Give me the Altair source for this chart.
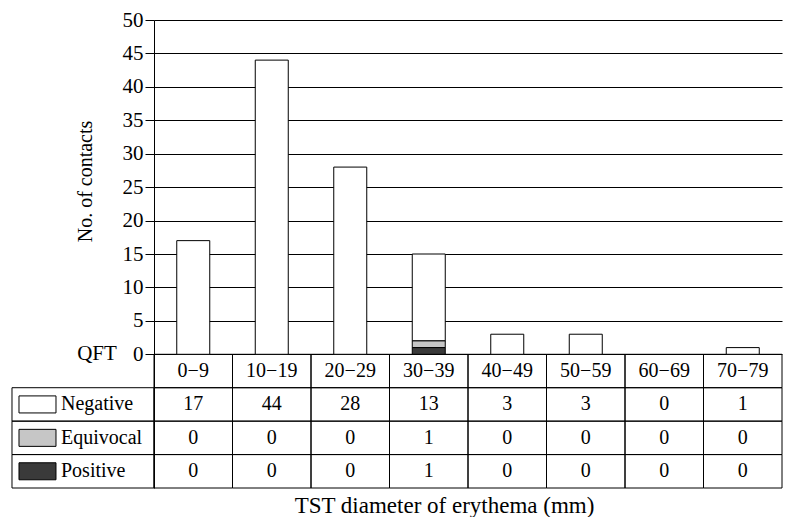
import altair as alt
import pandas as pd

# ---- data ----
CATEGORIES = ["0−9", "10−19", "20−29", "30−39", "40−49", "50−59", "60−69", "70−79"]
NEGATIVE = [17, 44, 28, 13, 3, 3, 0, 1]
EQUIVOCAL = [0, 0, 0, 1, 0, 0, 0, 0]
POSITIVE = [0, 0, 0, 1, 0, 0, 0, 0]
RESULTS = ["Negative", "Equivocal", "Positive"]
COLORS = ["#ffffff", "#c6c6c6", "#3a3a3a"]
Y_TICKS = [0, 5, 10, 15, 20, 25, 30, 35, 40, 45, 50]

# ---- layout constants (table geometry in scale units) ----
ROW = 5.0          # height of a table row, in y units
LABEL_COL = 1.809  # width of the row-label column, in column units
FONT = "Liberation Serif"

series = {"Negative": NEGATIVE, "Equivocal": EQUIVOCAL, "Positive": POSITIVE}
stack_rank = {"Positive": 0, "Equivocal": 1, "Negative": 2}

long_rows = []
for k, res in enumerate(RESULTS):
    for i, cat in enumerate(CATEGORIES):
        long_rows.append({
            "category": cat, "center": i + 0.5, "result": res,
            "count": series[res][i], "stack_order": stack_rank[res],
            "ycenter": -ROW * (k + 1.5),
        })
df = pd.DataFrame(long_rows)

cells = []
for r in range(4):
    for i in range(len(CATEGORIES)):
        cells.append({"x0": i, "x1": i + 1, "y0": -ROW * r, "y1": -ROW * (r + 1)})
for r in range(1, 4):
    cells.append({"x0": -LABEL_COL, "x1": 0, "y0": -ROW * r, "y1": -ROW * (r + 1)})
cells_df = pd.DataFrame(cells)

header_df = pd.DataFrame({"category": CATEGORIES,
                          "center": [i + 0.5 for i in range(len(CATEGORIES))],
                          "ycenter": [-ROW * 0.5] * len(CATEGORIES)})
labels_df = pd.DataFrame({"result": RESULTS,
                          "left": [-LABEL_COL] * 3,
                          "ycenter": [-ROW * (k + 1.5) for k in range(3)]})
qft_df = pd.DataFrame({"text": ["QFT"], "left": [-LABEL_COL], "y": [0]})

x_scale = alt.Scale(domain=[0, len(CATEGORIES)], nice=False, zero=False, padding=0)
y_scale = alt.Scale(domain=[-4 * ROW, 50], nice=False, zero=False, padding=0)
color_scale = alt.Scale(domain=RESULTS, range=COLORS)

X_AX = alt.Axis(labels=False, ticks=False, domain=False, grid=False,
                title="TST diameter of erythema (mm)", titleFont=FONT,
                titleFontSize=23, titleFontWeight="normal", titleColor="black",
                titleX=290, titleY=24, titleAlign="center", titleBaseline="alphabetic")
Y_AX = alt.Axis(values=Y_TICKS, grid=True, gridColor="black", gridWidth=1,
                tickColor="black", tickSize=9, tickWidth=1,
                domainColor="black", domainWidth=1,
                labelFont=FONT, labelFontSize=21, labelColor="black", labelPadding=2,
                title="No. of contacts", titleFont=FONT, titleFontSize=20,
                titleFontWeight="normal", titleColor="black",
                titleX=-69, titleY=161, titleAngle=270,
                titleAlign="center", titleBaseline="middle")

bars = alt.Chart(df).transform_filter("datum.count > 0").mark_bar(
    size=33, stroke="black", strokeWidth=1
).encode(
    x=alt.X("center:Q", scale=x_scale, axis=X_AX),
    y=alt.Y("count:Q", stack="zero", scale=y_scale, axis=Y_AX),
    color=alt.Color("result:N", scale=color_scale, legend=None),
    order=alt.Order("stack_order:Q"),
)

table = alt.Chart(cells_df).mark_rect(
    fill="white", fillOpacity=0, stroke="black", strokeWidth=1
).encode(
    x=alt.X("x0:Q", scale=x_scale, axis=X_AX), x2="x1",
    y=alt.Y("y0:Q", scale=y_scale, axis=Y_AX), y2="y1",
)

header = alt.Chart(header_df).mark_text(
    font=FONT, fontSize=20, color="black", align="center", baseline="middle"
).encode(
    x=alt.X("center:Q", scale=x_scale, axis=X_AX),
    y=alt.Y("ycenter:Q", scale=y_scale, axis=Y_AX),
    text="category:N",
)

values = alt.Chart(df).mark_text(
    font=FONT, fontSize=20, color="black", align="center", baseline="middle"
).encode(
    x=alt.X("center:Q", scale=x_scale, axis=X_AX),
    y=alt.Y("ycenter:Q", scale=y_scale, axis=Y_AX),
    text="count:Q",
)

swatches = alt.Chart(labels_df).mark_point(
    shape="M-1,-0.46L1,-0.46L1,0.46L-1,0.46Z", size=1369, filled=True,
    stroke="black", strokeWidth=1, opacity=1, xOffset=25.5
).encode(
    x=alt.X("left:Q", scale=x_scale, axis=X_AX),
    y=alt.Y("ycenter:Q", scale=y_scale, axis=Y_AX),
    fill=alt.Fill("result:N", scale=color_scale, legend=None),
)

row_labels = alt.Chart(labels_df).mark_text(
    font=FONT, fontSize=20, color="black", align="left", baseline="middle", dx=49
).encode(
    x=alt.X("left:Q", scale=x_scale, axis=X_AX),
    y=alt.Y("ycenter:Q", scale=y_scale, axis=Y_AX),
    text="result:N",
)

qft = alt.Chart(qft_df).mark_text(
    font=FONT, fontSize=21, color="black", align="center", baseline="middle", dx=85
).encode(
    x=alt.X("left:Q", scale=x_scale, axis=X_AX),
    y=alt.Y("y:Q", scale=y_scale, axis=Y_AX),
    text="text:N",
)

chart = alt.layer(table, bars, header, values, swatches, row_labels, qft).properties(
    width=628, height=468,
    autosize=alt.AutoSizeParams(type="none"),
    padding={"left": 146, "top": 12, "right": 1, "bottom": 29},
    background="white",
).configure_view(stroke="transparent")

chart.save("out.html", embed_options={"renderer": "svg", "actions": False})
